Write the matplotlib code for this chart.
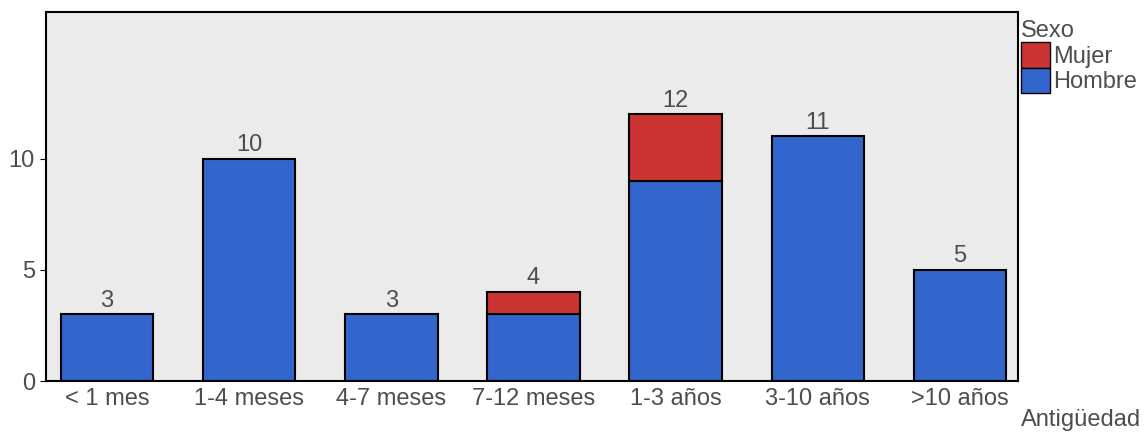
import matplotlib.pyplot as plt
from matplotlib.patches import Patch

plt.rcParams['font.family'] = ['Liberation Sans', 'DejaVu Sans']

# Data
categories = ['< 1 mes', '1-4 meses', '4-7 meses', '7-12 meses', '1-3 años', '3-10 años', '>10 años']
hombre = [3, 10, 3, 3, 9, 11, 5]
mujer = [0, 0, 0, 1, 3, 0, 0]

red = '#CC3333'
blue = '#3366CC'
grey = '#4D4D4D'
fs = 17

fig = plt.figure(figsize=(11.47, 4.36), dpi=100)
ax = fig.add_axes([0.0401, 0.126, 0.8475, 0.8465])
ax.set_facecolor('#EBEBEB')

x = list(range(len(categories)))
ax.bar(x, hombre, width=0.65, color=blue, edgecolor='black', linewidth=1.5)
mx = [i for i in x if mujer[i] > 0]
ax.bar(mx, [mujer[i] for i in mx], bottom=[hombre[i] for i in mx], width=0.65,
       color=red, edgecolor='black', linewidth=1.5)

# Total labels
for i in x:
    total = hombre[i] + mujer[i]
    ax.text(i, total + 0.12, str(total), ha='center', va='bottom', fontsize=fs, color=grey)

ax.set_xlim(-0.43, 6.41)
ax.set_ylim(0, 16.6)
ax.set_yticks([0, 5, 10])
ax.set_xticks(x)
ax.set_xticklabels(categories)
ax.tick_params(axis='both', labelsize=fs, labelcolor=grey, color='black')
ax.tick_params(axis='x', length=0, pad=5)
ax.tick_params(axis='y', length=4, pad=4)
for s in ax.spines.values():
    s.set_color('black')
    s.set_linewidth(1.5)

fig.text(0.8905, 0.012, 'Antigüedad', fontsize=fs, color=grey, ha='left', va='bottom')

handles = [Patch(facecolor=red, edgecolor='black', label='Mujer'),
           Patch(facecolor=blue, edgecolor='black', label='Hombre')]
leg = fig.legend(handles=handles, title='Sexo', loc='upper left', bbox_to_anchor=(0.888, 0.96),
                 frameon=False, fontsize=fs, title_fontsize=fs, handlelength=1.25, handleheight=1.3,
                 handletextpad=0.1, labelspacing=0.0, borderaxespad=0, borderpad=0.1)
for t in leg.get_texts():
    t.set_color(grey)
leg.get_title().set_color(grey)
leg._legend_box.align = 'left'

fig.savefig('out.png', dpi=100)
